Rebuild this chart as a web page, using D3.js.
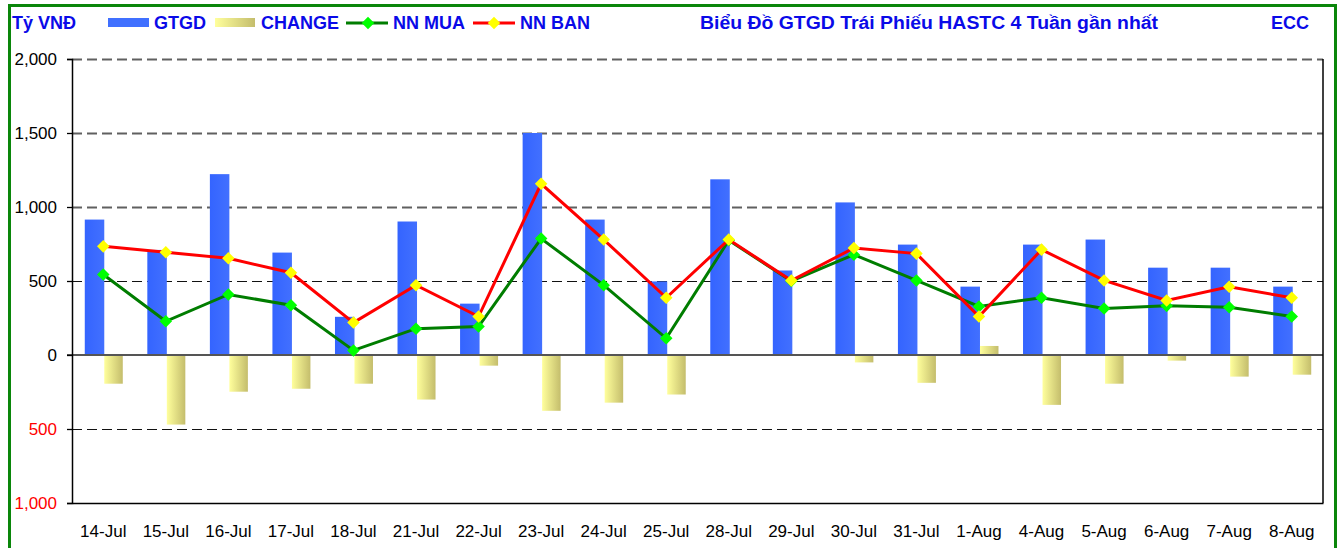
<!DOCTYPE html>
<html lang="vi">
<head>
<meta charset="UTF-8">
<title>Biểu Đồ GTGD Trái Phiếu HASTC 4 Tuần gần nhất</title>
<script src="https://d3js.org/d3.v7.min.js"></script>
<style>
  body { margin: 0; background: #fff; }
  svg text { font-family: "Liberation Sans", Arial, sans-serif; }
</style>
</head>
<body>
<div id="chart"></div>
<script>
    // Data (Tỷ VNĐ)
    const dates = ["14-Jul", "15-Jul", "16-Jul", "17-Jul", "18-Jul", "21-Jul", "22-Jul", "23-Jul", "24-Jul", "25-Jul",
        "28-Jul", "29-Jul", "30-Jul", "31-Jul", "1-Aug", "4-Aug", "5-Aug", "6-Aug", "7-Aug", "8-Aug"];
    const gtgd = [915, 710, 1222, 692, 258, 902, 347, 1500, 915, 497, 1187, 571, 1031, 746, 462, 746, 780, 590, 590, 462];
    const change = [-194, -470, -248, -228, -194, -301, -72, -377, -322, -267, 0, 0, -50, -188, 61, -337, -194, -38, -146, -133];
    const nnMua = [544, 228, 409, 336, 31, 178, 192, 787, 472, 113, 775, 500, 678, 504, 328, 387, 314, 332, 323, 260];
    const nnBan = [734, 694, 653, 556, 219, 472, 260, 1157, 780, 387, 780, 503, 723, 685, 260, 712, 504, 368, 461, 387];
    const yTicks = [2000, 1500, 1000, 500, 0, -500, -1000];

    const W = 1343, H = 548;
    const margin = {top: 59, right: 20, bottom: 45, left: 72};
    const plotW = 1323 - margin.left;
    const plotH = 503 - margin.top;

    const svg = d3.select('#chart')
        .append('svg')
        .attr('width', W)
        .attr('height', H);

    const defs = svg.append('defs');
    const gBlue = defs.append('linearGradient').attr('id', 'gBlue');
    gBlue.append('stop').attr('offset', '0%').attr('stop-color', '#3464ff');
    gBlue.append('stop').attr('offset', '100%').attr('stop-color', '#4270ff');
    const gYellow = defs.append('linearGradient').attr('id', 'gYellow');
    gYellow.append('stop').attr('offset', '0%').attr('stop-color', '#ffff9c');
    gYellow.append('stop').attr('offset', '100%').attr('stop-color', '#c4bd6c');

    // outer green frame
    svg.append('rect')
        .attr('x', 9.5).attr('y', 5.5)
        .attr('width', 1326).attr('height', 560)
        .attr('fill', 'none')
        .attr('stroke', '#0a860a')
        .attr('stroke-width', 3);

    const g = svg.append('g')
        .attr('transform', `translate(${margin.left},${margin.top})`);

    const x = d3.scaleBand().domain(dates).range([0, plotW]);
    const y = d3.scaleLinear().domain([-1000, 2000]).range([plotH, 0]);
    const cx = d => x(d) + x.bandwidth() / 2;
    const barW = 19.5;

    // gridlines
    g.selectAll('.grid')
        .data(yTicks.filter(t => t !== 0 && t !== -1000))
        .enter().append('line')
        .attr('x1', 0).attr('x2', plotW)
        .attr('y1', d => Math.round(y(d)) + 0.5).attr('y2', d => Math.round(y(d)) + 0.5)
        .attr('stroke', d => d >= 1000 ? '#606060' : '#111')
        .attr('stroke-width', d => d >= 1000 ? 2 : 1.2)
        .attr('stroke-dasharray', '10,5');

    // bars
    g.selectAll('.gtgd')
        .data(dates)
        .enter().append('rect')
        .attr('x', d => cx(d) - barW + 1)
        .attr('y', (d, i) => y(gtgd[i]))
        .attr('width', barW)
        .attr('height', (d, i) => y(0) - y(gtgd[i]))
        .attr('fill', 'url(#gBlue)');

    g.selectAll('.change')
        .data(dates)
        .enter().append('rect')
        .attr('x', d => cx(d) + 1)
        .attr('y', (d, i) => y(Math.max(0, change[i])))
        .attr('width', barW - 1)
        .attr('height', (d, i) => Math.abs(y(change[i]) - y(0)))
        .attr('fill', 'url(#gYellow)');

    // zero line
    g.append('line')
        .attr('x1', -5).attr('x2', plotW)
        .attr('y1', y(0)).attr('y2', y(0))
        .attr('stroke', '#555')
        .attr('stroke-width', 2);

    // axes
    const yAxis = g.append('g')
        .call(d3.axisLeft(y).tickValues(yTicks).tickSize(5).tickPadding(10)
            .tickFormat(d => d3.format(',')(Math.abs(d))));
    yAxis.select('.domain').attr('stroke', '#000').attr('stroke-width', 1.5);
    yAxis.selectAll('.tick line').attr('stroke', '#000').attr('stroke-width', 1.3);
    yAxis.selectAll('.tick text')
        .attr('font-size', 17)
        .attr('fill', d => d < 0 ? '#ff0000' : '#000');

    const xAxis = g.append('g')
        .attr('transform', `translate(0,${plotH})`)
        .call(d3.axisBottom(x).tickSize(0).tickPadding(22));
    xAxis.select('.domain').attr('stroke', '#000').attr('stroke-width', 1.5);
    xAxis.selectAll('.tick text').attr('font-size', 17).attr('fill', '#000');

    // right border of plot
    g.append('line')
        .attr('x1', plotW).attr('x2', plotW)
        .attr('y1', 0).attr('y2', plotH)
        .attr('stroke', '#000')
        .attr('stroke-width', 1.5);

    // lines
    const diamond = d3.symbol().type(d3.symbolDiamond2).size(100);
    function drawLine(vals, stroke, fill) {
        const line = d3.line().x((v, i) => cx(dates[i])).y(v => y(v));
        g.append('path')
            .datum(vals)
            .attr('fill', 'none')
            .attr('stroke', stroke)
            .attr('stroke-width', 3)
            .attr('d', line);
        g.selectAll(null)
            .data(vals)
            .enter().append('path')
            .attr('d', diamond)
            .attr('transform', (v, i) => `translate(${cx(dates[i])},${y(v)})`)
            .attr('fill', fill);
    }
    drawLine(nnMua, '#007d00', '#00ff00');
    drawLine(nnBan, '#ff0000', '#ffff00');

    // legend + title
    const blue = '#0a0ae8';
    const header = svg.append('g').attr('font-weight', 'bold').attr('font-size', 18).attr('fill', blue);
    header.append('text').attr('x', 12).attr('y', 29).text('Tỷ VNĐ');
    header.append('rect').attr('x', 108).attr('y', 18).attr('width', 41).attr('height', 9).attr('fill', '#4070ff');
    header.append('text').attr('x', 154).attr('y', 29).text('GTGD');
    header.append('rect').attr('x', 215).attr('y', 18).attr('width', 40).attr('height', 9).attr('fill', 'url(#gYellow)');
    header.append('text').attr('x', 261).attr('y', 29).text('CHANGE');
    header.append('line').attr('x1', 346).attr('x2', 388).attr('y1', 23).attr('y2', 23)
        .attr('stroke', '#007d00').attr('stroke-width', 3);
    header.append('path').attr('d', diamond).attr('transform', 'translate(368,23)').attr('fill', '#00ff00');
    header.append('text').attr('x', 393).attr('y', 29).text('NN MUA');
    header.append('line').attr('x1', 473).attr('x2', 515).attr('y1', 23).attr('y2', 23)
        .attr('stroke', '#ff0000').attr('stroke-width', 3);
    header.append('path').attr('d', diamond).attr('transform', 'translate(494,23)').attr('fill', '#ffff00');
    header.append('text').attr('x', 520).attr('y', 29).text('NN BAN');
    header.append('text').attr('x', 700).attr('y', 29)
        .attr('textLength', 458).attr('lengthAdjust', 'spacingAndGlyphs')
        .text('Biểu Đồ GTGD Trái Phiếu HASTC 4 Tuần gần nhất');
    header.append('text').attr('x', 1271).attr('y', 29).text('ECC');
</script>
</body>
</html>
